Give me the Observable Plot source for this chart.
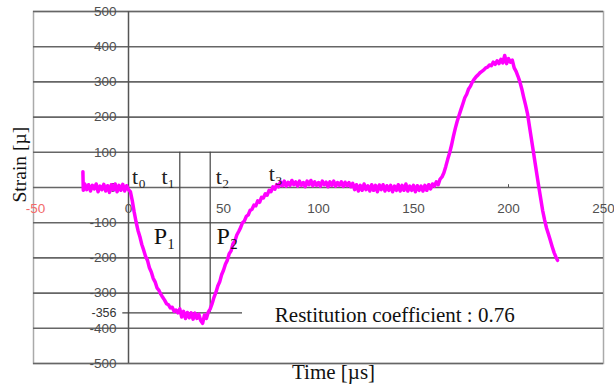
<!DOCTYPE html>
<html>
<head>
<meta charset="utf-8">
<script src="https://cdn.jsdelivr.net/npm/d3@7"></script>
<script src="https://cdn.jsdelivr.net/npm/@observablehq/plot@0.6"></script>
<style>
  html, body { margin: 0; padding: 0; background: #fff; }
  #chart svg { display: block; }
</style>
</head>
<body>
<div id="chart"></div>
<script>
// ---- data ----
const time = [
  -24,-23.8,-23,-22,-21,-20,-19,-18,-17,-16,-15,-14,-13,-12,-11,-10,-9,-8,-7,-6,-5,-4,-3,-2,-1,0,
  1,2,3,4,5,6,7,8,9,10,11,12,13,14,15,16,17,18,19,20,21,22,23,24,25,26,
  27,28,29,30,31,32,33,34,35,36,37,38,39,40,41,42,
  43,44,45,46,47,48,49,50,51,52,53,54,55,56,57,58,59,60,61,62,63,64,65,66,67,68,69,70,71,72,73,74,75,76,77,78,
  79,80,81,82,83,84,85,86,87,88,89,90,91,92,93,94,95,96,97,98,99,100,101,102,103,104,105,106,107,108,109,110,111,112,113,114,115,116,117,118,
  119,120,121,122,123,124,125,126,127,128,129,130,131,132,133,134,135,136,137,138,139,140,141,142,143,144,145,146,147,148,149,150,151,152,153,154,155,156,157,158,159,160,
  161,162,163,164,165,166,167,168,169,170,171,172,173,174,175,176,177,178,179,180,181,182,183,184,185,186,187,188,189,190,
  191,192,193,194,195,196,197,198,199,200,201,202,203,204,205,206,207,208,209,210,211,212,213,214,215,216,217,218,219,220,221,222,223,224,225,225.8
];
const strain = [
  45,-8,10,-6,8,-10,6,-4,10,-12,4,-6,9,-10,5,-14,8,-6,10,-12,6,-8,9,-10,5,-6,
  -12,-38,-70,-98,-122,-140,-162,-178,-196,-207,-228,-240,-258,-268,-285,-292,-303,-312,-320,-330,-333,-342,-340,-352,-348,-356,
  -345,-368,-352,-372,-355,-370,-356,-374,-357,-372,-360,-378,-386,-362,-372,-354,
  -345,-330,-312,-298,-280,-268,-248,-235,-218,-207,-188,-180,-160,-152,-135,-125,-114,-100,-95,-82,-78,-65,-62,-50,-52,-38,-42,-28,-30,-18,-22,-8,-12,2,-5,8,
  2,16,5,18,4,15,6,20,8,16,4,18,6,14,2,18,8,20,5,16,6,14,4,18,8,15,2,16,6,18,4,14,6,16,3,15,5,14,2,12,
  -6,8,-10,6,-8,10,-6,5,-10,8,-8,6,-12,7,-6,8,-10,5,-8,6,-12,4,-8,8,-10,6,-8,10,-10,4,-8,6,-12,5,-8,4,-10,6,-8,8,-4,10,
  4,16,8,24,30,42,60,80,98,120,145,168,188,205,222,238,255,265,280,288,300,308,315,320,326,330,334,340,342,348,
  346,356,350,360,352,364,354,375,352,366,356,362,340,330,316,300,280,256,234,210,175,140,105,70,35,0,-33,-66,-92,-115,-132,-150,-168,-185,-198,-207
];

const yTicks = [500, 400, 300, 200, 100, 0, -100, -200, -300, -400, -500];
const xTicks = [0, 50, 100, 150, 200, 250];
const xTickNeg = [-50];
const peakStrain = -356;          // marked minimum
const tLineX = [27, 43];          // t1, t2 markers
const tLineTop = 100;
const peakLineEnd = 60;
const tLabels = ["t₀", "t₁", "t₂", "t₃"];
const tLabelX = [5.5, 21, 49.5, 77.5];
const tLabelY = [30, 30, 30, 38];
const pLabels = ["P₁", "P₂"];
const pLabelX = [19, 52];
const pLabelY = -140;
const noteText = "Restitution coefficient : 0.76";
const noteX = 77;
const noteY = -364;

const series = time.map((t, i) => ({t, s: strain[i]}));
const tLabelData = tLabels.map((l, i) => ({l, x: tLabelX[i], y: tLabelY[i]}));
const pLabelData = pLabels.map((l, i) => ({l, x: pLabelX[i], y: pLabelY}));
const noteData = [{l: noteText, x: noteX, y: noteY}];

const sans = "'Liberation Sans', Arial, sans-serif";
const serif = "'Liberation Serif', 'Times New Roman', serif";

const chart = Plot.plot({
  width: 614,
  height: 389,
  marginLeft: 33,
  marginRight: 11,
  marginTop: 11,
  marginBottom: 26,
  x: {type: "linear", domain: [-50, 250], axis: null},
  y: {type: "linear", domain: [-500, 500], axis: null},
  style: {background: "#fff", fontFamily: sans},
  marks: [
    Plot.frame({stroke: "#aaa", strokeWidth: 1.5}),
    Plot.ruleY(yTicks, {stroke: "#666", strokeWidth: 1.6}),
    Plot.ruleX([0], {y1: -500, y2: 500, stroke: "#555", strokeWidth: 1.5}),
    Plot.ruleX([200], {y1: 0, y2: 8, stroke: "#555", strokeWidth: 1}),
    // y tick labels
    Plot.text(yTicks, {x: 0, y: d => d, text: d => String(d), dx: -12, textAnchor: "end",
      fill: "#505050", fontSize: 13.5}),
    // x tick labels
    Plot.text(xTicks, {x: d => d, y: 0, text: d => String(d), dy: 21, fill: "#505050", fontSize: 13.5}),
    Plot.text(xTickNeg, {x: d => d, y: 0, text: d => String(d), dy: 21, dx: 2, fill: "#f26a6a", fontSize: 13.5}),
    // t1 / t2 markers and minimum line
    Plot.ruleX(tLineX, {y1: peakStrain, y2: tLineTop, stroke: "#444", strokeWidth: 1.2}),
    Plot.ruleY([peakStrain], {x1: -3, x2: peakLineEnd, stroke: "#444", strokeWidth: 1.2}),
    Plot.text([peakStrain], {x: 0, y: d => d, text: d => String(d), dx: -12, textAnchor: "end",
      fill: "#333", fontSize: 12.5}),
    // signal
    Plot.line(series, {x: "t", y: "s", stroke: "#ff00ff", strokeWidth: 3.5}),
    // annotations
    Plot.text(tLabelData, {x: "x", y: "y", text: "l", fontFamily: serif, fontSize: 22, fill: "#222"}),
    Plot.text(pLabelData, {x: "x", y: "y", text: "l", fontFamily: serif, fontSize: 24, fill: "#111"}),
    Plot.text(noteData, {x: "x", y: "y", text: "l", textAnchor: "start", fontFamily: serif, fontSize: 21, fill: "#111"}),
    Plot.text(["Time [µs]"], {frameAnchor: "bottom", dx: 15, dy: 15, text: d => d, fontFamily: serif, fontSize: 21, fill: "#111"}),
    Plot.text(["Strain [µ]"], {frameAnchor: "left", dx: -14, dy: 15, rotate: -90, text: d => d, fontFamily: serif, fontSize: 19.5, fill: "#111"})
  ]
});
document.getElementById("chart").appendChild(chart);
</script>
</body>
</html>
